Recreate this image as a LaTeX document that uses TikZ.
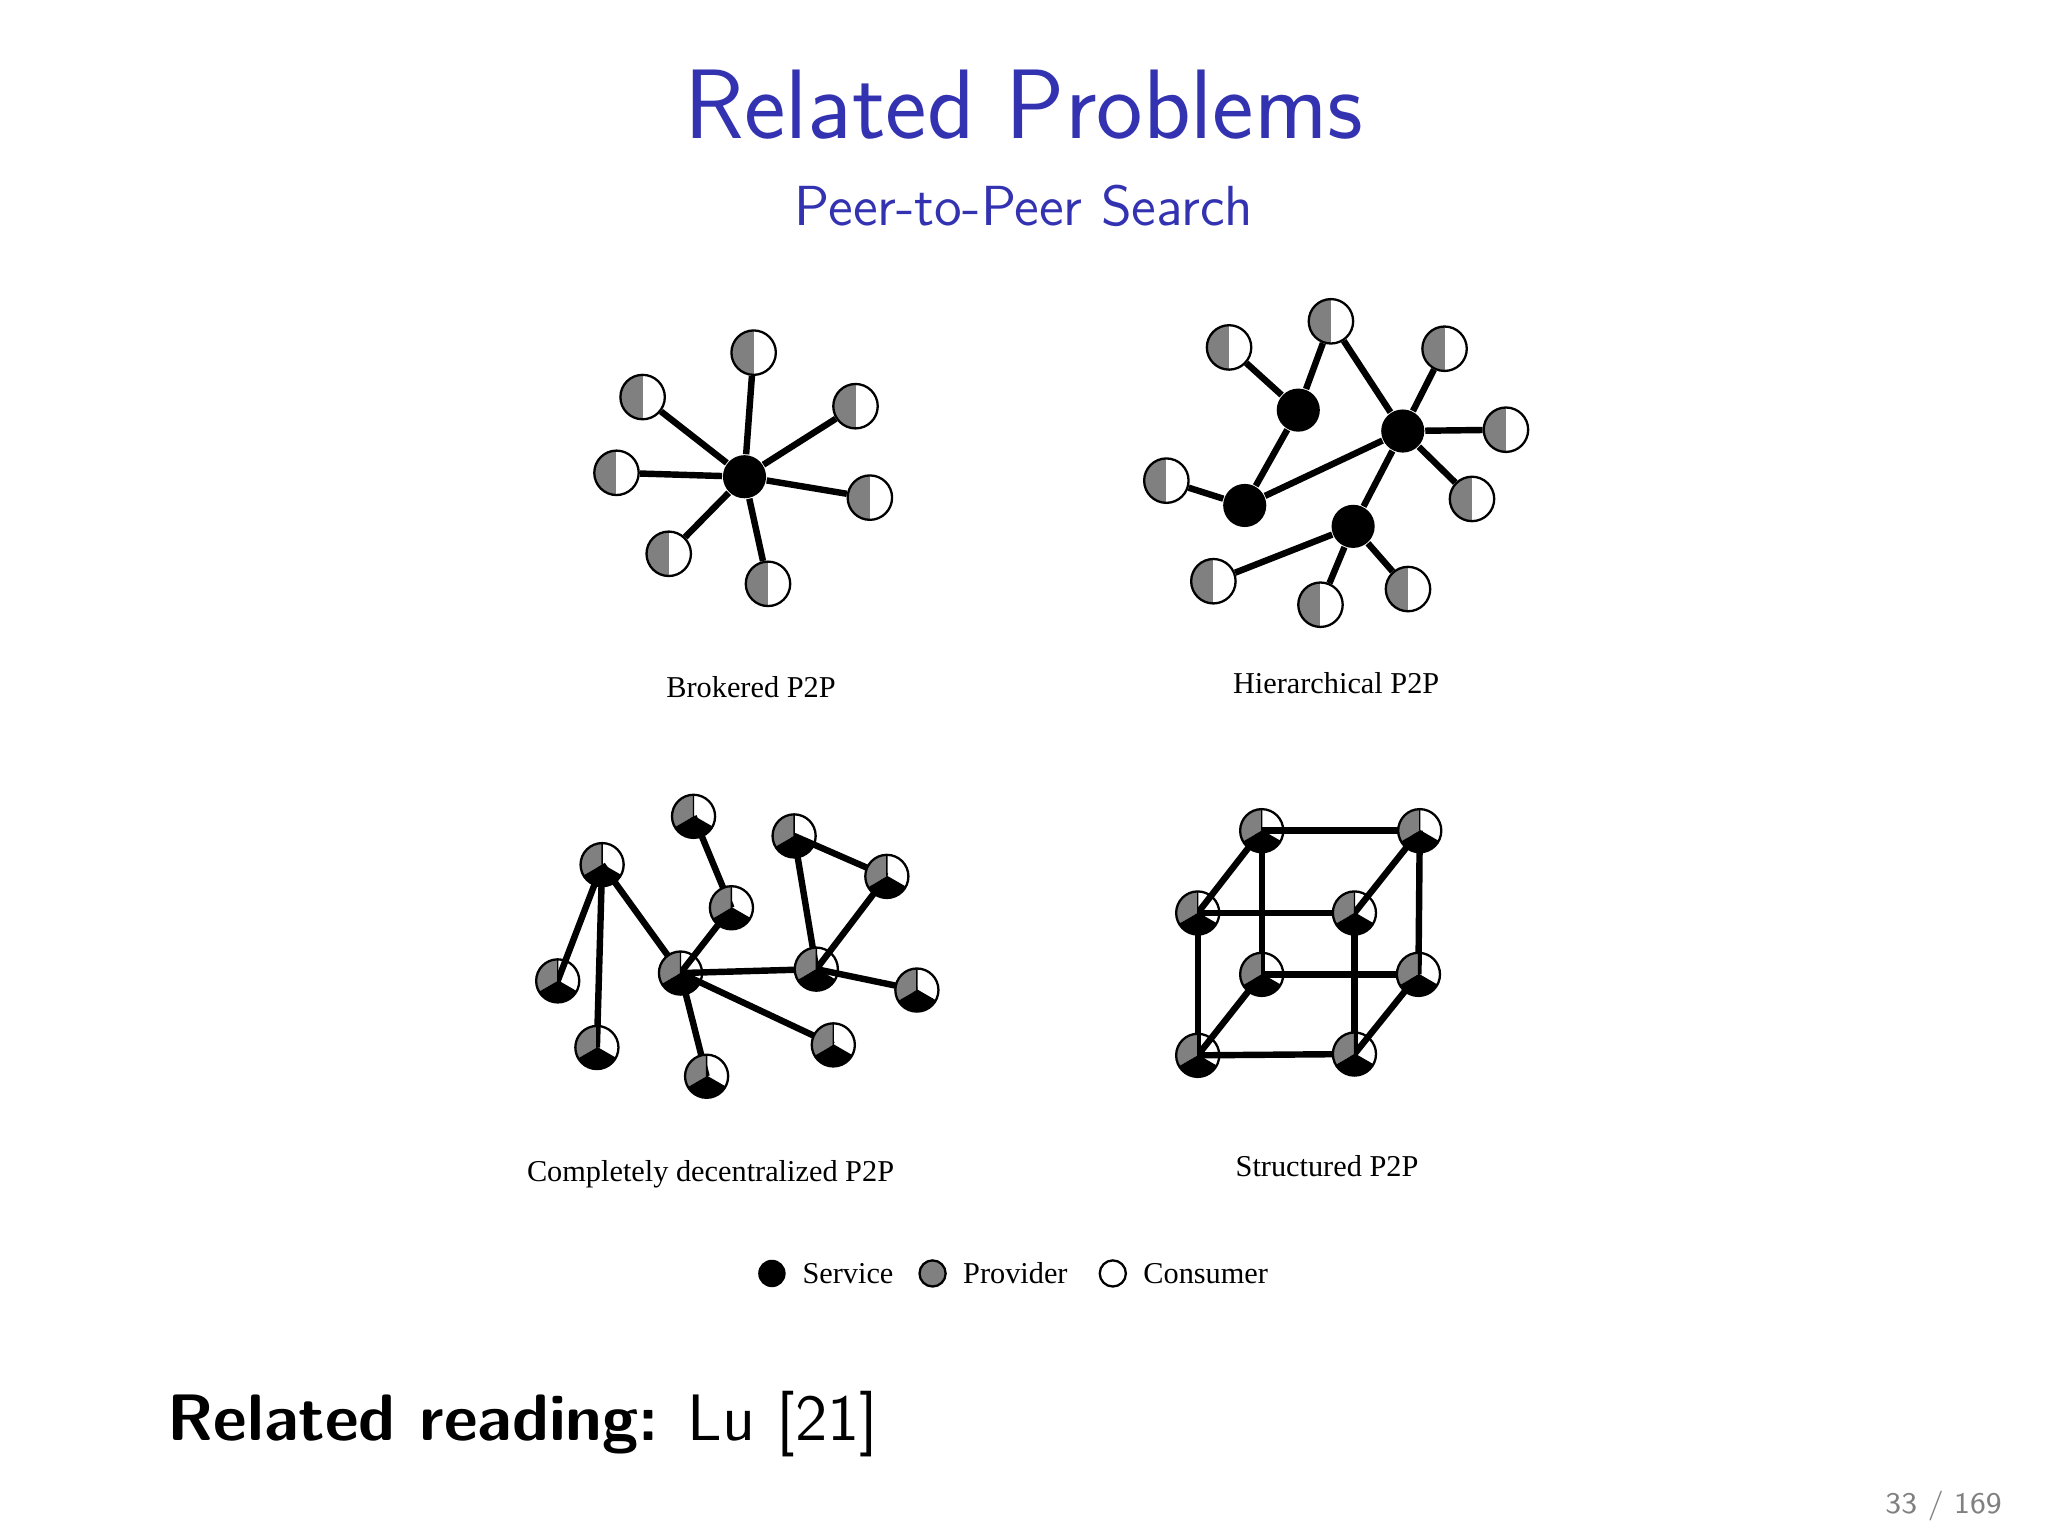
\documentclass[tikz,border=0pt]{standalone}
\usepackage{fontspec}
\newfontfamily\lserif{Liberation Serif}
\usetikzlibrary{backgrounds}
\definecolor{btitle}{RGB}{51,51,178}
\definecolor{pgray}{RGB}{128,128,128}
\tikzset{
 nd/.style={circle,draw=black,line width=0.5pt,minimum size=0.34cm,inner sep=0pt},
 half/.style={nd,path picture={\fill[pgray] (path picture bounding box.south west) rectangle (path picture bounding box.north);}},
 tri/.style={nd,minimum size=0.33cm,path picture={
   \fill[pgray] (path picture bounding box.center) -- ++(90:3mm) arc[start angle=90,end angle=210,radius=3mm] -- cycle;
   \fill[black] (path picture bounding box.center) -- ++(210:3mm) arc[start angle=210,end angle=330,radius=3mm] -- cycle;
   \draw[black,line width=0.3pt] (path picture bounding box.center) -- ++(90:3mm) (path picture bounding box.center) -- ++(330:3mm);}},
 svc/.style={circle,fill=black,minimum size=0.33cm,inner sep=0pt},
 ed/.style={line width=1.4pt},
 lab/.style={font=\lserif\fontsize{6.6}{7}\selectfont},
}
\begin{document}
\begin{tikzpicture}[x=0.01cm,y=-0.01cm]
\useasboundingbox (0,0) rectangle (1568,1176);
\node[text=btitle,font=\sffamily\fontsize{21.5}{24}\selectfont] (title) at (784,80) {Related Problems};
\node[text=btitle,font=\sffamily\fontsize{12.3}{14}\selectfont] (sub) at (784,158) {Peer-to-Peer Search};
% Brokered
\node[svc] (h) at (570,365) {};
\foreach \n/\x/\y in {p1/577/270,p2/492/304,p3/655/311,p4/472/362,p5/666/381,p6/512/424,p7/588/447}{
 \node[half] (\n) at (\x,\y) {}; \draw[ed] (h) -- (\n);}
\node[lab] (l1) at (575,526) {Brokered P2P};
% Hierarchical
\node[svc] (s1) at (994,314) {};
\node[svc] (s2) at (1074,330) {};
\node[svc] (s3) at (953,387) {};
\node[svc] (s4) at (1036,403) {};
\foreach \n/\x/\y in {q1/1019/246,q2/941/266,q3/1106/267,q4/1153/329,q5/893/368,q6/1127/382,q7/929/445,q8/1011/463,q9/1078/451}{
 \node[half] (\n) at (\x,\y) {};}
\foreach \a/\b in {q2/s1,q1/s1,s1/s3,q5/s3,s3/s2,q1/s2,q3/s2,q4/s2,q6/s2,s2/s4,q7/s4,q8/s4,q9/s4}{\draw[ed] (\a) -- (\b);}
\node[lab] (l2) at (1023,523) {Hierarchical P2P};
% Decentralized
\foreach \n/\x/\y in {a/461/662,b/531/625,c/608/640,d/679/671,e/560/695,f/427/751,g/521/745,hh/625/742,i/702/758,j/457/802,k/638/800,l/541/824}{
 \node[tri] (\n) at (\x,\y) {};}
\begin{scope}[on background layer]
\foreach \a/\b in {a/f,a/j,a/g,b/e,e/g,c/hh,c/d,d/hh,g/hh,hh/i,g/k,g/l}{\draw[ed] (\a.center) -- (\b.center);}
\end{scope}
\node[lab] (l3) at (544,899) {Completely decentralized P2P};
% Structured
\foreach \n/\x/\y in {btl/966/636,btr/1087/636,ftl/917/699,ftr/1037/699,bbl/966/746,bbr/1086/746,fbl/917/808,fbr/1037/807}{
 \node[tri] (\n) at (\x,\y) {};}
\begin{scope}[on background layer]
\foreach \a/\b in {btl/btr,btl/ftl,btr/ftr,ftl/ftr,btl/bbl,btr/bbr,ftl/fbl,ftr/fbr,bbl/bbr,fbl/fbr,bbl/fbl,bbr/fbr}{\draw[ed] (\a.center) -- (\b.center);}
\end{scope}
\node[lab] (l4) at (1016,893) {Structured P2P};
% Legend
\node[circle,fill=black,minimum size=0.21cm,inner sep=0pt] (ls) at (591,975) {};
\node[lab,anchor=west] (lst) at (602,975) {Service};
\node[circle,fill=pgray,draw=black,line width=0.5pt,minimum size=0.2cm,inner sep=0pt] (lp) at (714,975) {};
\node[lab,anchor=west] (lpt) at (725,975) {Provider};
\node[circle,draw=black,line width=0.5pt,minimum size=0.2cm,inner sep=0pt] (lc) at (852,975) {};
\node[lab,anchor=west] (lct) at (863,975) {Consumer};
% Footer
\node[anchor=west,font=\sffamily\fontsize{14.3}{17}\selectfont] (rr) at (116,1090) {\textbf{Related reading:} Lu [21]};
\node[anchor=east,text=gray,font=\sffamily\fontsize{6.5}{7}\selectfont] (pg) at (1545,1153) {33 / 169};
\end{tikzpicture}
\end{document}
